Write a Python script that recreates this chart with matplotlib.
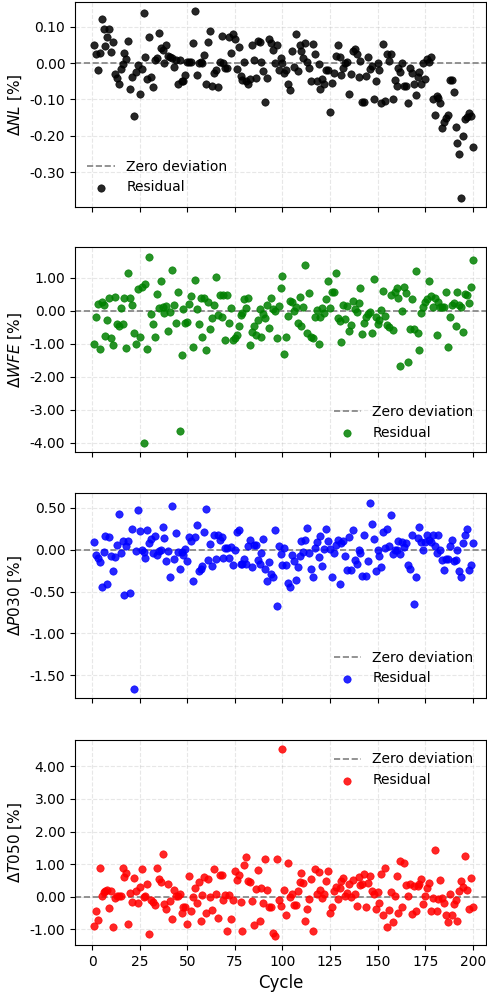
import numpy as np
import matplotlib
matplotlib.use('Agg')
from matplotlib import pyplot as plt
from matplotlib.ticker import FormatStrFormatter

# residuals per cycle
dNL = [0.05, 0.025, -0.02, 0.028, 0.12, 0.095, 0.048, 0.073, 0.095, 0.031,
       0.059, -0.03, -0.04, -0.059, -0.017, -0.003, 0.028, 0.011, 0.061, -0.072,
       -0.039, -0.145, -0.025, -0.005, -0.085, -0.016, 0.137, 0.017, -0.043, 0.071,
       -0.039, -0.065, 0.008, 0.015, 0.084, 0.041, 0.036, 0.0, 0.051, 0.019,
       0.018, 0.015, -0.012, 0.008, -0.058, 0.009, -0.05, -0.05, -0.033, 0.003,
       0.003, 0.003, 0.056, 0.144, -0.033, 0.0, 0.003, 0.0, 0.023, -0.058,
       0.057, 0.089, -0.062, -0.027,
       -0.019, -0.067, 0.004, 0.075, 0.0, -0.013, -0.014, 0.071, 0.027, 0.079,
       0.066, -0.015, 0.043, -0.036, -0.047, 0.004, -0.05, -0.058, -0.045, 0.05,
       0.008, -0.041, 0.061, 0.058, 0.003, -0.021, -0.106, -0.041, 0.067, 0.056,
       0.037, 0.001, 0.05, -0.02, 0.015, 0.0, -0.028, -0.019, -0.058, -0.074,
       0.032, -0.011, 0.081, -0.021, 0.05, 0.034, 0.015, 0.054, 0.003, -0.014,
       -0.05, 0.052, 0.025, -0.05, -0.002, -0.071, -0.045, -0.058, -0.018, -0.018,
       -0.134, -0.056, -0.027, 0.02, 0.05, 0.016, -0.032, -0.013, 0.0,
       0.004, -0.085, -0.03, 0.034, 0.038, 0.026, -0.039, 0.006, -0.108,
       -0.108, -0.035, 0.016, -0.017, -0.008, -0.099, -0.049, 0.0, -0.02, -0.109,
       0.053, -0.104, 0.026, 0.006, 0.026, -0.098, -0.048, -0.064, -0.014, -0.025,
       0.0, -0.064, -0.064, -0.109, -0.013, -0.027, -0.057, -0.087, -0.038, -0.024,
       -0.058, 0.0, -0.045, 0.011, 0.003, 0.016, -0.098, -0.143, -0.09, -0.095,
       -0.111, -0.18, -0.162, -0.15, -0.142, -0.048, -0.048, -0.079, -0.175, -0.22,
       -0.251, -0.37, -0.2, -0.155, -0.149, -0.137, -0.145, -0.231]

dWFE = [-1.01, -0.19, 0.2, -1.15, 0.27, 0.18, -0.76, -0.28, 0.4, -0.82,
        -1.05, 0.42, -0.41, -0.47, 0.07, -0.40, 0.4, -1.14, 1.14, 0.4,
        0.16, -0.68, -1.01, 0.65, -0.8, 0.73, -4.02, 0.82, -1.15, 1.64,
        -0.11, -0.40, -0.79, 0.5, 0.08, 0.89, 0.1, -0.06, 0.15, -0.61,
        -0.03, 1.22, 0.18, -0.38, 0.56, -3.63, -1.33, 0.05, -0.36, -0.35,
        0.22, 0.44, -1.09, 0.94, 0.06, -0.41, 0.38, -0.79, 0.39, -1.18,
        0.26, -0.56, -0.22, 0.16, 1.03,
        -0.13, 0.47, -0.2, 0.47, -0.9, 0.48, -0.38, 0.09, -0.88, -0.81,
        -0.74, -0.47, -0.14, -0.08, 0.35, 0.07, 0.39, -1.03, -0.64, -0.46,
        -0.72, -0.27, 0.04, -0.8, -0.09, -0.23, 0.16, -0.53, 0.4, 0.04,
        0.0, -0.81, 0.15, 0.69, 1.05, -1.31, -0.8, -0.15, 0.29, 0.28,
        0.0, 0.1, -0.38, 0.43, -0.46, 0.1, 1.38, -0.68, 0.53, -0.79,
        -0.81, -0.2, 0.02, -1.01, -0.18, 0.07, -0.06, 0.37, 0.91, 0.07,
        0.58, 0.58, 1.14, -0.22, -0.32, -0.96, 0.17, -0.26,
        0.14, -0.61, -0.42, 0.3, 0.05, -0.05, 0.24, 0.68, -0.69, -0.38,
        -0.2, -0.1, -0.05, -0.67, 0.96, -0.2, -0.4, -0.28, 0.02, 0.59,
        -0.15, -0.42, -0.5, 0.48, -0.57, 0.56, 0.69, 0.4, -1.68, -0.02,
        0.71, 0.55, -1.54, -0.54, 0.37, -0.56, 1.21, -0.68, -1.19, -0.06,
        0.12, 0.27, 0.35, 0.91, 0.44, 0.12, 0.4, -0.74, 0.26, 0.1,
        0.1, 0.12, 0.56, -1.1, -0.2, 0.18, 0.24, -0.47, 0.58, 0.18,
        0.1, -0.63, 0.5, 0.47, 0.24, 0.73, 1.54]

dP030 = [0.09, -0.06, -0.10, -0.15, -0.45, -0.03, 0.16, -0.41, 0.15, -0.08,
         -0.25, -0.09, 0.06, 0.43, -0.04, 0.1, -0.54, 0.04, 0.1, -0.52,
         0.25, -1.66, -0.02, 0.47, 0.22, 0.0, -0.03, -0.1, 0.23, 0.08,
         0.13, -0.04, 0.16, -0.06, -0.02, -0.01, 0.27, 0.14, -0.13, -0.02,
         -0.33, 0.52, -0.11, 0.2, -0.03, -0.23, -0.03, -0.07, 0.01, -0.13,
         0.15, 0.1, -0.38, 0.15, 0.29, -0.25, -0.23, -0.19, 0.21, 0.48,
         -0.12, 0.07, -0.19, 0.17,
         -0.11, 0.18, 0.12, 0.15, -0.1, 0.02, 0.02, -0.1, 0.03, -0.18, 0.0,
         0.21, 0.23, -0.17, -0.17, -0.11, -0.17, 0.04, 0.12, -0.21, 0.06,
         0.06, -0.12, -0.17, -0.04, 0.13, -0.23, -0.37, -0.15, -0.29, -0.33,
         0.23, -0.67, 0.04, -0.05, -0.18, 0.02, -0.18, -0.4, -0.45, -0.06,
         -0.13, -0.36, -0.21, -0.08, 0.1, -0.03, 0.12, 0.26, -0.04, -0.23,
         -0.33, 0.02, 0.09, -0.09, 0.16, -0.19, 0.01, 0.25, 0.1, 0.01,
         -0.33, -0.04, 0.06, 0.12, -0.41, 0.08, 0.1, -0.08,
         -0.24, 0.15, -0.24, 0.23, -0.12, -0.17, 0.0, -0.04, -0.31, 0.17,
         -0.31, -0.13, 0.56, 0.31, 0.13, -0.25, 0.0, -0.08, -0.21, 0.21,
         0.02, 0.24, 0.04, 0.41, -0.05, 0.0, 0.0, 0.1, -0.05, 0.09,
         0.03, 0.08, -0.18, -0.23, 0.18, -0.65, -0.33, 0.14, 0.27, 0.09,
         0.0, 0.09, 0.18, 0.12, 0.09, 0.18, 0.04, -0.04, 0.18, 0.0,
         -0.12, -0.24, -0.11, -0.11, 0.04, 0.12, -0.13, -0.12, -0.01, -0.25,
         -0.33, 0.08, 0.18, 0.24, -0.24, -0.18, 0.08]

dT050 = [-0.9, -0.44, -0.71, 0.89, 0.02, 0.13, 0.19, 0.22, -0.35, 0.17,
         -0.94, -0.05, 0.01, 0.03, 0.03, 0.89, 0.62, 0.72, -0.83, 0.1,
         -0.16, 0.57, 0.19, -0.2, 0.29, 0.85, -0.01, 0.02, 0.39, -1.15,
         -0.11, -0.17, -0.24, 0.88, 0.55, 0.46, 1.31, -0.23, -0.38, 0.39,
         -0.14, -0.69, 0.21, 0.01, 0.03, 0.08, -0.51, -0.3, -0.3, -0.84,
         0.64, -0.44, -0.01, 0.27, -0.2, 0.46, -0.73, 0.05, 0.62, -0.49,
         0.54, -0.02, -0.41, 0.85, 0.08,
         -0.66, 0.67, 0.67, -0.09, 0.06, -1.05, 0.06, -0.69, -0.09, 0.8,
         0.52, 0.67, -0.15, -1.05, 0.98, 1.22, 0.47, 0.45, -0.12, -0.86,
         0.24, 0.83, -0.73, 0.26, -0.18, 1.15, 0.2, -0.32, -0.3, -1.1,
         -1.19, 1.17, -0.1, -0.29, 4.52, 0.2, -0.57, 1.05, -0.01, 0.07,
         -0.26, -0.26, 0.17, 0.46, 0.74, 0.42, -0.73, -0.38, -0.07, 0.53,
         -1.04, 0.84, 0.07, 0.76, 0.22, -0.03, 0.07, 0.48, 0.78, -0.51,
         -0.32, 0.19, 0.29, -0.07, 0.28, 0.49, 0.57, 0.01,
         0.11, 0.38, -0.01, 0.52, 0.08, -0.28, 0.6, 0.35, 0.4, 0.7,
         -0.32, 0.42, 0.65, 0.19, 0.08, -0.37, 0.16, -0.19, 0.7, -0.56,
         0.89, -0.93, -0.42, 0.16, -0.79, 0.01, 0.63, -0.5, 1.11, -0.3,
         1.05, 0.37, 0.01, 0.4, -0.52, 0.32, -0.44, 0.33, 0.38, 0.54,
         -0.23, 0.03, 0.26, 0.42, -0.45, -0.03, 1.42, -0.44, -0.08, 0.5,
         -0.03, -0.19, -0.55, -0.79, 0.07, -0.55, -0.21, -0.09, -0.73, 0.17,
         0.47, 0.31, 1.24, 0.21, -0.38, 0.57, -0.3]

cycles = np.arange(1, 201)

panels = [
   (dNL, 'black', r'$\Delta NL$ [%]', 'lower left', (-0.396, 0.168)),
   (dWFE, 'green', r'$\Delta WFE$ [%]', 'lower right', (-4.28, 1.93)),
   (dP030, 'blue', r'$\Delta P030$ [%]', 'lower right', (-1.77, 0.675)),
   (dT050, 'red', r'$\Delta T050$ [%]', 'upper right', (-1.48, 4.81)),
]

fig = plt.figure(figsize=(4.87, 9.97), dpi=100)
bottoms = [0.7924, 0.5466, 0.2999, 0.0522]
axes = []
for i, (vals, col, lab, loc, ylim) in enumerate(panels):
   ax = fig.add_axes([0.154, bottoms[i], 0.844, 0.2056],
                     sharex=axes[0] if axes else None)
   axes.append(ax)
   ax.axhline(0, color='gray', linestyle='--', linewidth=1.2, label='Zero deviation')
   ax.scatter(cycles[:len(vals)], vals, s=28, color=col, alpha=0.85,
              edgecolors=col, linewidths=0.5, label='Residual', zorder=3)
   ax.set_ylim(*ylim)
   ax.set_ylabel(lab, fontsize=11)
   ax.yaxis.set_major_formatter(FormatStrFormatter('%.2f'))
   ax.grid(True, linestyle='--', alpha=0.3)
   ax.legend(loc=loc, frameon=False, fontsize=10)
   if i < 3:
      ax.tick_params(labelbottom=False)

axes[0].set_xlim(-9, 207)
axes[-1].set_xlabel('Cycle', fontsize=12)

fig.savefig('out.png', dpi=100)
